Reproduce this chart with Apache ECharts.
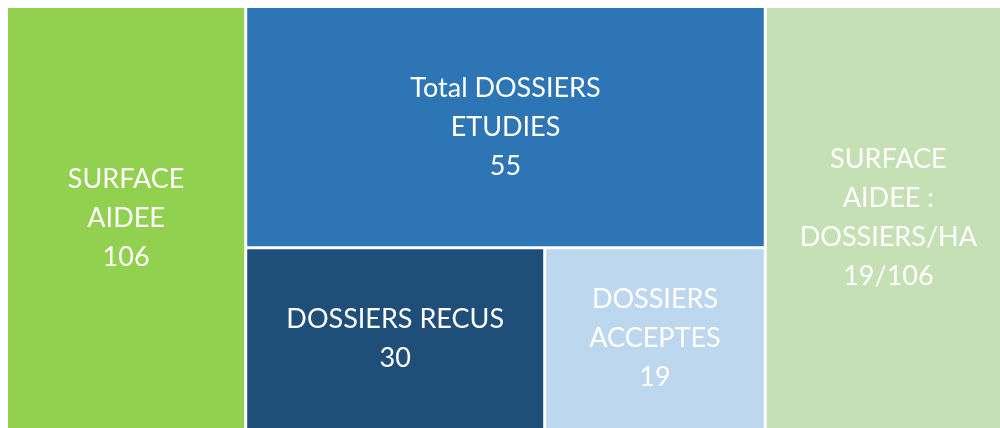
<!DOCTYPE html>
<html>
<head>
<meta charset="utf-8">
<script src="https://cdn.jsdelivr.net/npm/echarts@6/dist/echarts.min.js"></script>
<style>
  html, body { margin: 0; padding: 0; background: #fff; }
  #chart { width: 1000px; height: 428px; }
</style>
</head>
<body>
<div id="chart"></div>
<script>
// cellules : libellé, valeur affichée, surface (proportions)
const names = ['SURFACE\nAIDEE', 'Total DOSSIERS\nETUDIES', 'DOSSIERS RECUS', 'DOSSIERS\nACCEPTES', 'SURFACE\nAIDEE :\nDOSSIERS/HA'];
const shownValues = ['106', '55', '30', '19', '19/106'];
const areaWeights = [238.5, 295.4, 128.1, 94.5, 245.5];
const colors = ['#92D050', '#2E75B6', '#1F4E79', '#BDD7EE', '#C5E0B4'];

function leaf(i) {
  return {
    name: names[i],
    value: areaWeights[i],
    shown: shownValues[i],
    itemStyle: { color: colors[i] }
  };
}

const treeData = [
  leaf(0),
  {
    name: 'dossiers',
    children: [
      leaf(1),
      { name: 'bas', children: [leaf(2), leaf(3)] }
    ]
  },
  leaf(4)
];

const chart = echarts.init(document.getElementById('chart'));
chart.setOption({
  animation: false,
  series: [
    {
      type: 'treemap',
      left: 8,
      top: 8,
      width: 1002,
      height: 420,
      sort: false,
      roam: false,
      nodeClick: false,
      breadcrumb: { show: false },
      itemStyle: {
        borderWidth: 0,
        gapWidth: 3,
        borderColor: '#fff'
      },
      upperLabel: { show: false },
      label: {
        show: true,
        position: 'inside',
        overflow: 'none',
        color: '#fff',
        fontFamily: 'Lato',
        fontSize: 27,
        lineHeight: 39,
        align: 'center',
        formatter: function (p) {
          return p.name + '\n' + p.data.shown;
        }
      },
      data: treeData
    }
  ]
});
</script>
</body>
</html>
